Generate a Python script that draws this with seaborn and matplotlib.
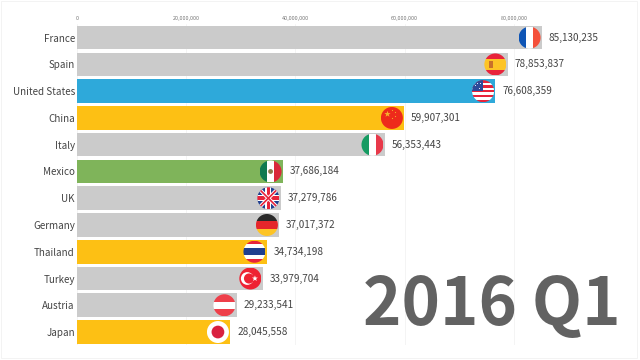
"""Bar chart race frame, 2016 Q1."""

import matplotlib
matplotlib.use("Agg")
import matplotlib.pyplot as plt
from matplotlib.patches import Circle, Polygon, Rectangle
import numpy as np
import pandas as pd
import seaborn as sns

countries = ["France", "Spain", "United States", "China", "Italy", "Mexico",
             "UK", "Germany", "Thailand", "Turkey", "Austria", "Japan"]
visitors = [85130235, 78853837, 76608359, 59907301, 56353443, 37686184,
            37279786, 37017372, 34734198, 33979704, 29233541, 28045558]
regions = ["Europe", "Europe", "Americas", "Asia", "Europe", "Latin",
           "Europe", "Europe", "Asia", "Europe", "Europe", "Asia"]
tick_values = [0, 20000000, 40000000, 60000000, 80000000]
period = "2016 Q1"

palette = {"Europe": "#CBCBCB", "Americas": "#2EA9DA", "Asia": "#FDC014", "Latin": "#7FB45A"}

WHITE = "#FFFFFF"
RED = "#E8233A"


# ── Flag helpers ────────────────────────────────────────────────────────────

def stripes_h(ax, colors, heights=None):
    heights = heights or [2 / len(colors)] * len(colors)
    top = 1
    for color, h in zip(colors, heights):
        ax.add_patch(Rectangle((-1, top - h), 2, h, color=color, lw=0))
        top -= h


def stripes_v(ax, colors):
    w = 2 / len(colors)
    for i, color in enumerate(colors):
        ax.add_patch(Rectangle((-1 + i * w, -1), w, 2, color=color, lw=0))


def star_points(cx, cy, r):
    angles = np.pi / 2 + np.arange(10) * np.pi / 5
    radii = np.where(np.arange(10) % 2 == 0, r, r * 0.4)
    return np.column_stack([cx + radii * np.cos(angles), cy + radii * np.sin(angles)])


def flag_france(ax):
    stripes_v(ax, ["#0F55B5", WHITE, "#F4503A"])


def flag_spain(ax):
    stripes_h(ax, ["#E8233A", "#FDC426", "#E8233A"], [0.5, 1.0, 0.5])
    ax.add_patch(Rectangle((-0.62, -0.3), 0.45, 0.6, color="#C9702B", lw=0))


def flag_usa(ax):
    stripes_h(ax, [RED, WHITE] * 4 + [RED])
    ax.add_patch(Rectangle((-1, 0), 1.0, 1, color="#2C4A9A", lw=0))
    ax.scatter([-0.7, -0.4, -0.55, -0.25], [0.55, 0.3, 0.75, 0.7], s=0.6, color=WHITE, lw=0)


def flag_china(ax):
    stripes_h(ax, ["#EE2A1B"])
    ax.add_patch(Polygon(star_points(-0.4, 0.35, 0.3), color="#F4B32B", lw=0))
    ax.scatter([0.05, 0.25, 0.25, 0.05], [0.75, 0.5, 0.2, 0.0], s=0.7, color="#F4B32B", lw=0)


def flag_italy(ax):
    stripes_v(ax, ["#169B62", WHITE, "#E8394A"])


def flag_mexico(ax):
    stripes_v(ax, ["#0F7A50", WHITE, "#D9283A"])
    ax.add_patch(Circle((0, 0), 0.22, color="#8C7A4A", lw=0))


def flag_uk(ax):
    stripes_h(ax, ["#1F3F8F"])
    ax.plot([-1, 1], [-1, 1], color=WHITE, lw=2.6)
    ax.plot([-1, 1], [1, -1], color=WHITE, lw=2.6)
    ax.plot([-1, 1], [-1, 1], color=RED, lw=1.2)
    ax.plot([-1, 1], [1, -1], color=RED, lw=1.2)
    ax.add_patch(Rectangle((-1, -0.28), 2, 0.56, color=WHITE, lw=0))
    ax.add_patch(Rectangle((-0.28, -1), 0.56, 2, color=WHITE, lw=0))
    ax.add_patch(Rectangle((-1, -0.16), 2, 0.32, color=RED, lw=0))
    ax.add_patch(Rectangle((-0.16, -1), 0.32, 2, color=RED, lw=0))


def flag_germany(ax):
    stripes_h(ax, ["#2A2A2A", "#E5262B", "#FDC426"])


def flag_thailand(ax):
    stripes_h(ax, [RED, WHITE, "#1F3F8F", WHITE, RED], [0.34, 0.32, 0.68, 0.32, 0.34])


def flag_turkey(ax):
    stripes_h(ax, ["#EE2233"])
    ax.add_patch(Circle((-0.28, 0), 0.58, color=WHITE, lw=0))
    ax.add_patch(Circle((-0.12, 0), 0.46, color="#EE2233", lw=0))
    ax.add_patch(Polygon(star_points(0.42, 0, 0.28), color=WHITE, lw=0))


def flag_austria(ax):
    stripes_h(ax, ["#EE3F4A", WHITE, "#EE3F4A"])


def flag_japan(ax):
    stripes_h(ax, [WHITE])
    ax.add_patch(Circle((0, 0), 0.58, color="#D9203F", lw=0))


flag_funcs = [flag_france, flag_spain, flag_usa, flag_china, flag_italy, flag_mexico,
              flag_uk, flag_germany, flag_thailand, flag_turkey, flag_austria, flag_japan]


def add_flag(ax, value, row, draw):
    """Round flag inside the end of the bar, 22px across in figure pixels."""
    to_px = ax.transData.transform
    cx, cy = to_px((value, row))
    cx -= 12.2
    fig = ax.figure
    W, H = fig.bbox.width, fig.bbox.height
    inset = fig.add_axes([(cx - 11) / W, (cy - 11) / H, 22 / W, 22 / H])
    inset.set_xlim(-1, 1)
    inset.set_ylim(-1, 1)
    inset.axis("off")
    inset.patch.set_alpha(0)
    before = set(inset.get_children())
    draw(inset)
    clip = Circle((0, 0), 1, transform=inset.transData)
    for artist in inset.get_children():
        if artist not in before:
            artist.set_clip_path(clip)


# ── Main ────────────────────────────────────────────────────────────────────

sns.set_theme(style="white")
plt.rcParams["font.family"] = ["Noto Sans CJK SC", "DejaVu Sans"]

df = pd.DataFrame({"country": countries, "visitors": visitors, "region": regions})

fig = plt.figure(figsize=(6.4, 3.6), dpi=100)

# faint video frame round the picture
fig.add_artist(Rectangle((1 / 640, 2 / 360), 636 / 640, 357 / 360, transform=fig.transFigure,
                         facecolor="none", edgecolor="#F3F3F3", lw=0.7))

ax = fig.add_axes([77 / 640, 1 - 345.4 / 360, 559 / 640, 321.1 / 360])

sns.barplot(
    data=df, x="visitors", y="country", hue="region", palette=palette,
    dodge=False, width=0.88, legend=False, saturation=1, linewidth=0, ax=ax,
)

ax.set_xlim(0, 559 / 5.46 * 1e6)
ax.set_ylim(11.5, -0.5)
ax.set_xlabel("")
ax.set_ylabel("")
ax.patch.set_alpha(0)
sns.despine(ax=ax, left=True, bottom=True, top=True, right=True)

ax.xaxis.tick_top()
ax.set_xticks(tick_values)
ax.set_xticklabels([f"{v:,}" for v in tick_values])
ax.tick_params(axis="x", length=0, pad=2.2, labelsize=3.9, labelcolor="#777777")
ax.tick_params(axis="y", length=0, pad=1.5, labelsize=7.1, labelcolor="#444444")
ax.grid(axis="x", color="#F4F4F4", lw=0.7)
ax.set_axisbelow(True)

for row, value in enumerate(visitors):
    ax.annotate(
        f"{value:,}", xy=(value, row), xytext=(5, 0), textcoords="offset points",
        va="center", ha="left", fontsize=7.2, color="#444444",
    )

for row, (value, draw) in enumerate(zip(visitors, flag_funcs)):
    add_flag(ax, value, row, draw)

fig.text(620.5 / 640, 1 - 324.5 / 360, period, ha="right", va="baseline",
         fontsize=47, fontweight="bold", color="#626262")

fig.savefig("out.png", dpi=100)
plt.close(fig)
